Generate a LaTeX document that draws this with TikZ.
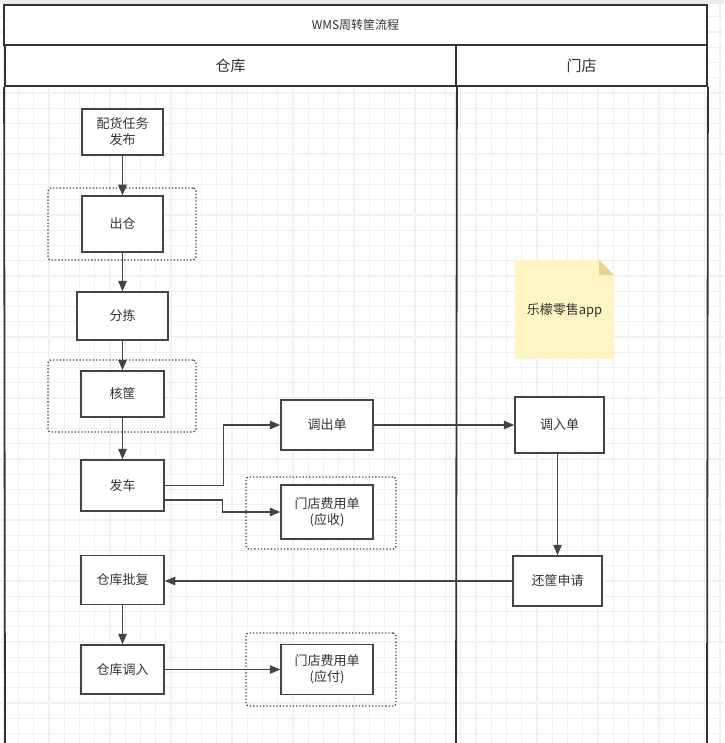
\documentclass[tikz,border=0pt]{standalone}
\usepackage{fontspec}
\setmainfont{Noto Sans CJK SC}
\usetikzlibrary{arrows.meta}
\definecolor{ln}{HTML}{444444}
\definecolor{lane}{HTML}{30343A}
\definecolor{txt}{HTML}{333333}
\definecolor{gridc}{HTML}{F1F1F1}
\definecolor{notefill}{HTML}{FFF4C3}
\definecolor{notefold}{HTML}{E8D392}
\tikzset{
  stepbox/.style={draw=ln, line width=1.5pt, fill=white, inner sep=0pt, align=center,
    text=txt, font=\fontsize{13}{16}\selectfont},
  groupbox/.style={draw=ln, line width=1.3pt, dotted, rounded corners=3pt, inner sep=0pt},
  lanebox/.style={draw=lane, line width=1.8pt, inner sep=0pt, text=txt},
  arr/.style={draw=ln, line width=1.4pt, -{Triangle[length=10.5pt,width=8.5pt]}},
}
\begin{document}
\begin{tikzpicture}[x=1pt,y=-1pt]
\useasboundingbox (0,0) rectangle (724,743);
\fill[white] (0,0) rectangle (724,743);
% grid
\foreach \i in {0,...,47} {\draw[gridc, line width=1.2pt] (3.3+15.25*\i,0) -- (3.3+15.25*\i,743);}
\foreach \i in {0,...,48} {\draw[gridc, line width=1.2pt] (0,1.5+15.25*\i) -- (724,1.5+15.25*\i);}
\fill[black!8] (0,0) rectangle (724,4);
% lanes
\fill[white] (4,5) rectangle (707,86);
\node[lanebox, minimum width=703pt, minimum height=40pt, font=\fontsize{12}{14}\selectfont] (title) at (355.5,25) {WMS周转筐流程};
\node[lanebox, minimum width=451pt, minimum height=41pt, font=\fontsize{15}{18}\selectfont] (hwh) at (230.5,65.5) {仓库};
\node[lanebox, minimum width=251pt, minimum height=41pt, font=\fontsize{15}{18}\selectfont] (hst) at (581.5,65.5) {门店};
\coordinate (lb) at (5,743);
\coordinate (mb) at (456,743);
\coordinate (rb) at (707,743);
\draw[lane, line width=1.8pt] (hwh.south west) -- (lb);
\draw[lane, line width=1.8pt] (hwh.south east) -- (mb);
\draw[lane, line width=1.8pt] (hst.south east) -- (rb);
% dotted groups
\node[groupbox, minimum width=148pt, minimum height=72pt] (g1) at (122,224) {};
\node[groupbox, minimum width=148pt, minimum height=72pt] (g2) at (122,396) {};
\node[groupbox, minimum width=150pt, minimum height=72pt] (g3) at (321,513) {};
\node[groupbox, minimum width=150pt, minimum height=73pt] (g4) at (321,669.5) {};
% note
\fill[notefill] (515,260) -- (599,260) -- (614,275) -- (614,359) -- (515,359) -- cycle;
\fill[notefold] (599,260) -- (614,275) -- (599,275) -- cycle;
\node[text=txt, font=\fontsize{13}{16}\selectfont] (note) at (564.5,311) {乐檬零售app};
% steps
\node[stepbox, minimum width=81pt, minimum height=46pt] (peihuo) at (122.5,132) {配货任务\\发布};
\node[stepbox, minimum width=81pt, minimum height=56pt] (chucang) at (122.5,224) {出仓};
\node[stepbox, minimum width=91pt, minimum height=48pt] (fenjian) at (122.5,316) {分拣};
\node[stepbox, minimum width=83pt, minimum height=46pt] (hekuang) at (122.5,394) {核筐};
\node[stepbox, minimum width=83pt, minimum height=51pt] (fache) at (122.5,485.5) {发车};
\node[stepbox, minimum width=92pt, minimum height=50pt] (diaochu) at (327,425) {调出单};
\node[stepbox, minimum width=92pt, minimum height=54pt] (fy1) at (327,512) {门店费用单\\(应收)};
\node[stepbox, minimum width=89pt, minimum height=56pt] (diaoru) at (559.5,425) {调入单};
\node[stepbox, minimum width=89pt, minimum height=50pt] (huan) at (557.5,581) {还筐申请};
\node[stepbox, minimum width=83pt, minimum height=49pt] (pifu) at (122.5,580) {仓库批复};
\node[stepbox, minimum width=83pt, minimum height=49pt] (cangdr) at (122.5,669.5) {仓库调入};
\node[stepbox, minimum width=92pt, minimum height=50pt] (fy2) at (327,669.5) {门店费用单\\(应付)};
% connectors
\draw[arr] (peihuo) -- (chucang);
\draw[arr] (chucang) -- (fenjian);
\draw[arr] (fenjian) -- (hekuang);
\draw[arr] (hekuang) -- (fache);
\draw[arr] (fache.east) -- ++(59,0) |- (diaochu.west);
\draw[arr] ([yshift=-14.5pt]fache.east) -- ++(58,0) |- (fy1.west);
\draw[arr] (diaochu) -- (diaoru);
\draw[arr] (huan.north |- diaoru.south) -- (huan.north);
\draw[arr] (huan.west) -- (huan.west -| pifu.east);
\draw[arr] (pifu) -- (cangdr);
\draw[arr] (cangdr) -- (fy2);
\end{tikzpicture}
\end{document}
